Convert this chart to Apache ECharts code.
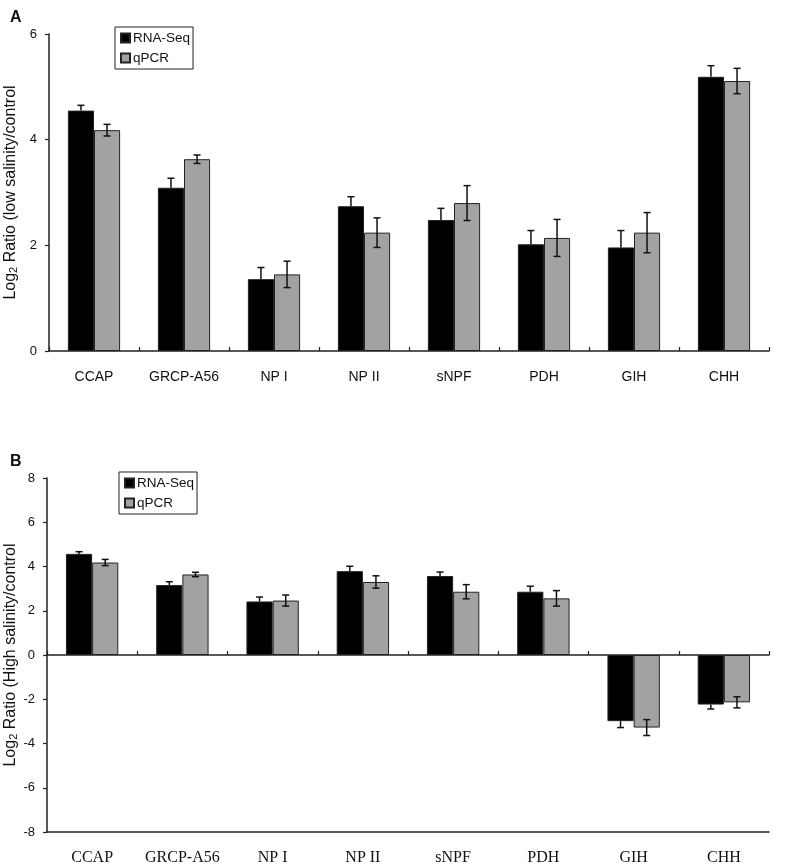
<!DOCTYPE html>
<html>
<head>
<meta charset="utf-8">
<script src="https://cdn.jsdelivr.net/npm/echarts@6/dist/echarts.min.js"></script>
<style>
  html, body { margin: 0; padding: 0; background: #fff; }
  #chart { width: 785px; height: 866px; }
</style>
</head>
<body>
<div id="chart"></div>
<script>
// categories and values
const categories = ['CCAP', 'GRCP-A56', 'NP I', 'NP II', 'sNPF', 'PDH', 'GIH', 'CHH'];

// A: low salinity / control
const lowRnaSeq = [4.55, 3.09, 1.36, 2.74, 2.48, 2.02, 1.96, 5.19];
const lowRnaSeqErr = [0.10, 0.18, 0.22, 0.18, 0.22, 0.26, 0.32, 0.21];
const lowQpcr = [4.18, 3.63, 1.45, 2.24, 2.80, 2.14, 2.24, 5.11];
const lowQpcrErr = [0.11, 0.08, 0.25, 0.28, 0.33, 0.35, 0.38, 0.24];

// B: high salinity / control
const highRnaSeq = [4.57, 3.16, 2.42, 3.79, 3.57, 2.86, -2.99, -2.24];
const highRnaSeqErr = [0.10, 0.15, 0.20, 0.22, 0.18, 0.25, 0.29, 0.20];
const highQpcr = [4.18, 3.64, 2.46, 3.30, 2.86, 2.56, -3.28, -2.14];
const highQpcrErr = [0.14, 0.10, 0.25, 0.28, 0.32, 0.35, 0.36, 0.25];

const lowTicks = { min: 0, max: 6, interval: 2 };
const highTicks = { min: -8, max: 8, interval: 2 };

const SANS = 'Liberation Sans, Arial, sans-serif';
const SERIF = 'Liberation Serif, Times New Roman, serif';
const GAP = 0.42; // barCategoryGap
const GRAY = '#a2a2a2';

const chart = echarts.init(document.getElementById('chart'));

// error bar on each bar; side = -1 left bar, +1 right bar
// the black bar only shows the outer half (inner half is hidden in the bar)
function errorBars(side, outerOnly) {
  return function (params, api) {
    const x = api.value(0);
    const v = api.value(1);
    const e = api.value(2);
    let top = v + e, bot = v - e;
    if (outerOnly) {
      if (v >= 0) bot = v; else top = v;
    }
    const hi = api.coord([x, top]);
    const lo = api.coord([x, bot]);
    const band = api.size([1, 0])[0];
    const bw = band * (1 - GAP) / 2;
    const cx = hi[0] + side * bw / 2;
    const cap = 3.5;
    const style = { stroke: '#111', lineWidth: 1.5 };
    const kids = [{ type: 'line', shape: { x1: cx, y1: hi[1], x2: cx, y2: lo[1] }, style }];
    if (!outerOnly || v >= 0) kids.push({ type: 'line', shape: { x1: cx - cap, y1: hi[1], x2: cx + cap, y2: hi[1] }, style });
    if (!outerOnly || v < 0) kids.push({ type: 'line', shape: { x1: cx - cap, y1: lo[1], x2: cx + cap, y2: lo[1] }, style });
    return { type: 'group', children: kids };
  };
}

function errData(vals, errs) {
  return vals.map((v, i) => [i, v, errs[i]]);
}

function barSeries(name, color, data, xi, yi) {
  return {
    name: name,
    type: 'bar',
    xAxisIndex: xi,
    yAxisIndex: yi,
    data: data,
    barGap: '0%',
    barCategoryGap: (GAP * 100) + '%',
    itemStyle: { color: color, borderColor: '#222', borderWidth: 1 },
    emphasis: { disabled: true },
    silent: true
  };
}

function errSeries(data, side, outerOnly, xi, yi) {
  return {
    type: 'custom',
    xAxisIndex: xi,
    yAxisIndex: yi,
    data: data,
    renderItem: errorBars(side, outerOnly),
    encode: { x: 0, y: 1 },
    z: 10,
    silent: true
  };
}

const axisLine = { show: true, lineStyle: { color: '#222', width: 1.5 } };

function yName(text) {
  return {
    name: 'Log{sub|2} Ratio (' + text + ' salinity/control',
    nameLocation: 'middle',
    nameRotate: 90,
    nameMoveOverlap: false,
    nameTextStyle: {
      fontFamily: SANS, fontSize: 16, color: '#111',
      rich: { sub: { fontFamily: SANS, fontSize: 11, color: '#111', verticalAlign: 'bottom', padding: [6, 0, 0, 0] } }
    }
  };
}

function legend(left, top) {
  return {
    data: ['RNA-Seq', 'qPCR'],
    orient: 'vertical',
    left: left,
    top: top,
    icon: 'rect',
    itemWidth: 9,
    itemHeight: 9,
    itemGap: 6,
    padding: [4, 3, 4, 5],
    borderColor: '#222',
    borderWidth: 1,
    selectedMode: false,
    textStyle: { fontFamily: SANS, fontSize: 13.5, color: '#111', padding: [0, 0, 0, -2] }
  };
}

const option = {
  backgroundColor: '#fff',
  animation: false,
  title: [
    { text: 'A', left: 5, top: 5, textStyle: { fontFamily: SANS, fontSize: 16, fontWeight: 'bold', color: '#111' } },
    { text: 'B', left: 5, top: 449, textStyle: { fontFamily: SANS, fontSize: 16, fontWeight: 'bold', color: '#111' } }
  ],
  legend: [legend(115, 27), legend(119, 472)],
  grid: [
    { left: 49, right: 16, top: 34, height: 317, containLabel: false, outerBoundsMode: 'none' },
    { left: 47, right: 16, top: 478, height: 354, containLabel: false, outerBoundsMode: 'none' }
  ],
  xAxis: [
    {
      gridIndex: 0,
      type: 'category',
      data: categories,
      axisLine: axisLine,
      axisTick: { show: true, inside: true, length: 4, lineStyle: { color: '#222', width: 1.2 } },
      axisLabel: { interval: 0, fontFamily: SANS, fontSize: 14, color: '#111', margin: 19 }
    },
    {
      gridIndex: 1,
      type: 'category',
      data: categories,
      position: 'bottom',
      axisLine: Object.assign({ onZero: true }, axisLine),
      axisTick: { show: true, inside: true, length: 4, lineStyle: { color: '#222', width: 1.2 } },
      axisLabel: { show: false }
    },
    {
      gridIndex: 1,
      type: 'category',
      data: categories,
      position: 'bottom',
      axisLine: Object.assign({ onZero: false }, axisLine),
      axisTick: { show: false },
      axisLabel: { interval: 0, fontFamily: SERIF, fontSize: 16, color: '#111', margin: 18 }
    }
  ],
  yAxis: [
    Object.assign({
      gridIndex: 0,
      type: 'value',
      min: lowTicks.min,
      max: lowTicks.max,
      interval: lowTicks.interval,
      nameGap: 30,
      axisLine: axisLine,
      axisTick: { show: true, length: 4, lineStyle: { color: '#222', width: 1.2 } },
      axisLabel: { fontFamily: SANS, fontSize: 13, color: '#111', margin: 12 },
      splitLine: { show: false }
    }, yName('low')),
    Object.assign({
      gridIndex: 1,
      type: 'value',
      min: highTicks.min,
      max: highTicks.max,
      interval: highTicks.interval,
      nameGap: 28,
      axisLine: axisLine,
      axisTick: { show: true, length: 4, lineStyle: { color: '#222', width: 1.2 } },
      axisLabel: { fontFamily: SANS, fontSize: 13, color: '#111', margin: 12 },
      splitLine: { show: false }
    }, yName('High'))
  ],
  series: [
    barSeries('RNA-Seq', '#000', lowRnaSeq, 0, 0),
    barSeries('qPCR', GRAY, lowQpcr, 0, 0),
    errSeries(errData(lowRnaSeq, lowRnaSeqErr), -1, true, 0, 0),
    errSeries(errData(lowQpcr, lowQpcrErr), 1, false, 0, 0),
    barSeries('RNA-Seq', '#000', highRnaSeq, 1, 1),
    barSeries('qPCR', GRAY, highQpcr, 1, 1),
    errSeries(errData(highRnaSeq, highRnaSeqErr), -1, true, 1, 1),
    errSeries(errData(highQpcr, highQpcrErr), 1, false, 1, 1)
  ]
};

chart.setOption(option);
</script>
</body>
</html>
